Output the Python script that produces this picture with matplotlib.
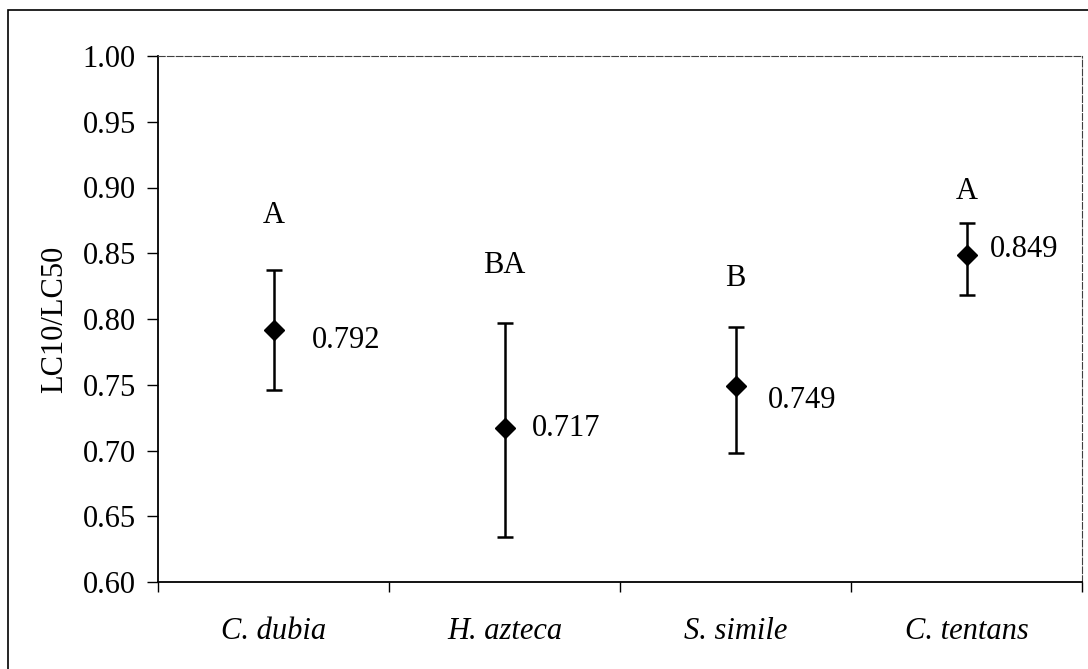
import matplotlib
matplotlib.use("Agg")
import matplotlib.pyplot as plt
from matplotlib.patches import Rectangle

# species and their LC10/LC50 ratios
species = ["C. dubia", "H. azteca", "S. simile", "C. tentans"]
ratio = [0.792, 0.717, 0.749, 0.849]
upper = [0.837, 0.797, 0.794, 0.873]
lower = [0.746, 0.634, 0.698, 0.818]
groups = ["A", "BA", "B", "A"]
group_y = [0.879, 0.841, 0.831, 0.897]
y_ticks = [0.60, 0.65, 0.70, 0.75, 0.80, 0.85, 0.90, 0.95, 1.00]

plt.rcParams["font.family"] = ["Liberation Serif", "DejaVu Serif"]
FS = 22

fig = plt.figure(figsize=(10.88, 6.69), dpi=100)
ax = fig.add_axes([158 / 1088, 1 - 582 / 669, (1082 - 158) / 1088, (582 - 56) / 669])

x = list(range(1, len(species) + 1))
err_lo = [r - l for r, l in zip(ratio, lower)]
err_hi = [u - r for r, u in zip(ratio, upper)]
ax.errorbar(x, ratio, yerr=[err_lo, err_hi], fmt="D", color="black",
            markersize=10.5, elinewidth=1.8, capsize=5.5, capthick=1.8)

# value labels to the right of each point (pixel offsets)
offsets = [(38, -11), (27, 0), (32, -14), (23, 5)]
for xi, r, (dx, dy) in zip(x, ratio, offsets):
    ax.annotate(f"{r:.3f}", (xi, r), xytext=(dx, dy), textcoords="offset pixels",
                ha="left", va="center", fontsize=FS)

# significance letters
for xi, g, gy in zip(x, groups, group_y):
    ax.text(xi, gy, g, ha="center", va="center", fontsize=FS)

ax.set_xlim(0.5, len(species) + 0.5)
ax.set_ylim(0.60, 1.00)
ax.set_yticks(y_ticks)
ax.set_yticklabels([f"{t:.2f}" for t in y_ticks], fontsize=FS)
ax.set_xticks([i + 0.5 for i in range(len(species) + 1)])
ax.set_xticklabels([])
ax.set_xticks(x, minor=True)
ax.set_xticklabels(species, minor=True, fontsize=FS, style="italic")
ax.tick_params(axis="x", which="minor", length=0, pad=25)
ax.tick_params(axis="x", which="major", length=7, width=1, direction="out")
ax.tick_params(axis="y", length=8, width=1, direction="out", pad=8)
ax.set_ylabel("LC10/LC50", fontsize=FS, labelpad=10)

for s in ["left", "bottom"]:
    ax.spines[s].set_linewidth(1.3)
for s in ["top", "right"]:
    ax.spines[s].set_color("0.25")
    ax.spines[s].set_linewidth(0.8)
    ax.spines[s].set_linestyle((0, (6, 2)))

# outer frame of the scanned figure (right and bottom edges cut off)
fig.patches.append(Rectangle((8 / 1088, -0.1), 1.2, 1.1 - 10 / 669,
                             transform=fig.transFigure, fill=False,
                             edgecolor="black", linewidth=1.2))

fig.savefig("out.png", dpi=100)
